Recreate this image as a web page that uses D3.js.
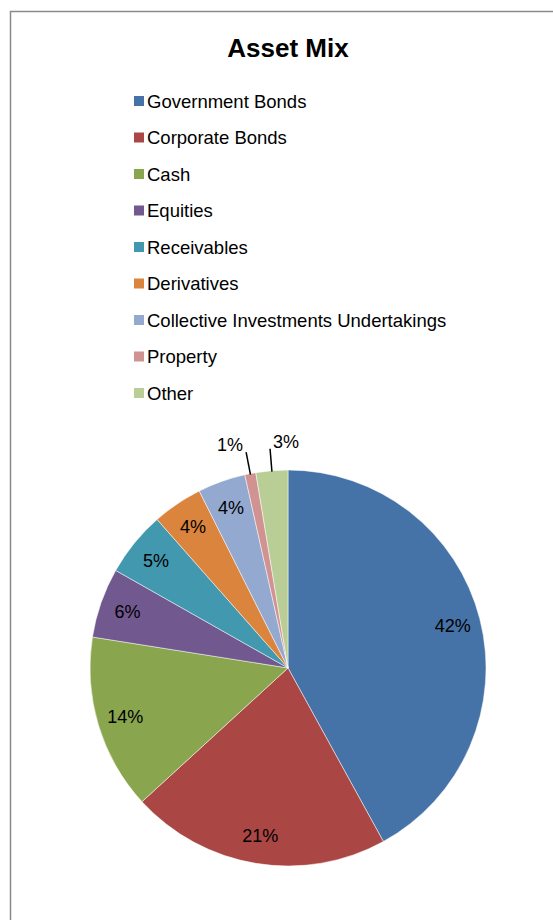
<!DOCTYPE html>
<html>
<head>
<meta charset="utf-8">
<script src="https://cdn.jsdelivr.net/npm/d3@7"></script>
<style>
  body { margin: 0; background: #fff; }
  svg { display: block; font-family: "Liberation Sans", Arial, sans-serif; }
</style>
</head>
<body>
<svg width="553" height="920"></svg>
<script>
// asset mix data
var categories = ["Government Bonds", "Corporate Bonds", "Cash", "Equities", "Receivables",
    "Derivatives", "Collective Investments Undertakings", "Property", "Other"];
var shares = [42.0, 21.2, 14.3, 5.7, 5.3, 4.1, 3.9, 0.9, 2.6];
var colors = ["#4572A7", "#AA4643", "#89A54E", "#71588F", "#4198AF",
    "#DB843D", "#93A9CF", "#D19392", "#B9CD96"];

var svg = d3.select("svg"),
    cx = 288,
    cy = 668,
    radius = 198;

// chart frame (only top and left edges are visible in the window)
svg.append("rect")
    .attr("x", 10.5)
    .attr("y", 11.5)
    .attr("width", 600)
    .attr("height", 1000)
    .attr("fill", "none")
    .attr("stroke", "#8a8a8a")
    .attr("stroke-width", 1.5);

svg.append("text")
    .attr("x", 288)
    .attr("y", 57)
    .attr("text-anchor", "middle")
    .style("font-size", "26px")
    .style("font-weight", "bold")
    .text("Asset Mix");

var data = categories.map(function (c, i) {
    return { name: c, value: shares[i], color: colors[i] };
});

// legend
var legendY = d3.scalePoint()
    .domain(categories)
    .range([101, 393]);

var legend = svg.append("g").selectAll("g")
    .data(data)
    .enter().append("g")
    .attr("transform", function (d) { return "translate(134," + legendY(d.name) + ")"; });

legend.append("rect")
    .attr("x", 0)
    .attr("y", -5)
    .attr("width", 10)
    .attr("height", 10)
    .attr("fill", function (d) { return d.color; });

legend.append("text")
    .attr("x", 13)
    .attr("y", 6.5)
    .style("font-size", "18.5px")
    .attr("fill", "#000")
    .text(function (d) { return d.name; });

// pie
var total = d3.sum(shares);
var pie = d3.pie()
    .sort(null)
    .value(function (d) { return d.value; });

var arc = d3.arc()
    .innerRadius(0)
    .outerRadius(radius);

var labelArc = d3.arc()
    .innerRadius(170)
    .outerRadius(170);

var g = svg.append("g")
    .attr("transform", "translate(" + cx + "," + cy + ")");

var arcs = pie(data);

g.selectAll("path")
    .data(arcs)
    .enter().append("path")
    .attr("d", arc)
    .attr("fill", function (d) { return d.data.color; })
    .attr("stroke", "#fff")
    .attr("stroke-width", 0.5);

function pct(d) {
    return Math.round(d.data.value / total * 100) + "%";
}

// labels inside the bigger slices
var inside = arcs.filter(function (d) { return d.data.value / total >= 0.02; });
var outside = arcs.filter(function (d) { return d.data.value / total < 0.02 || d.index === arcs.length - 1; });

g.selectAll("text.inside")
    .data(inside.filter(function (d) { return outside.indexOf(d) < 0; }))
    .enter().append("text")
    .attr("class", "inside")
    .attr("transform", function (d) { return "translate(" + labelArc.centroid(d) + ")"; })
    .attr("text-anchor", "middle")
    .attr("dy", "0.35em")
    .style("font-size", "18px")
    .text(pct);

// small slices get leader lines and a label above the pie
var lineInner = d3.arc().innerRadius(radius - 1).outerRadius(radius - 1),
    lineOuter = d3.arc().innerRadius(radius + 22).outerRadius(radius + 22);

var ext = g.selectAll("g.outside")
    .data(outside)
    .enter().append("g")
    .attr("class", "outside");

ext.append("line")
    .attr("x1", function (d) { return lineInner.centroid(d)[0]; })
    .attr("y1", function (d) { return lineInner.centroid(d)[1]; })
    .attr("x2", function (d) { return lineOuter.centroid(d)[0]; })
    .attr("y2", function (d) { return lineOuter.centroid(d)[1]; })
    .attr("stroke", "#000")
    .attr("stroke-width", 1.5);

ext.append("text")
    .attr("x", function (d, i) { return lineOuter.centroid(d)[0] + (i % 2 ? 3 : -3); })
    .attr("y", function (d) { return lineOuter.centroid(d)[1] - 1; })
    .attr("text-anchor", function (d, i) { return i % 2 ? "start" : "end"; })
    .style("font-size", "18px")
    .text(pct);
</script>
</body>
</html>
